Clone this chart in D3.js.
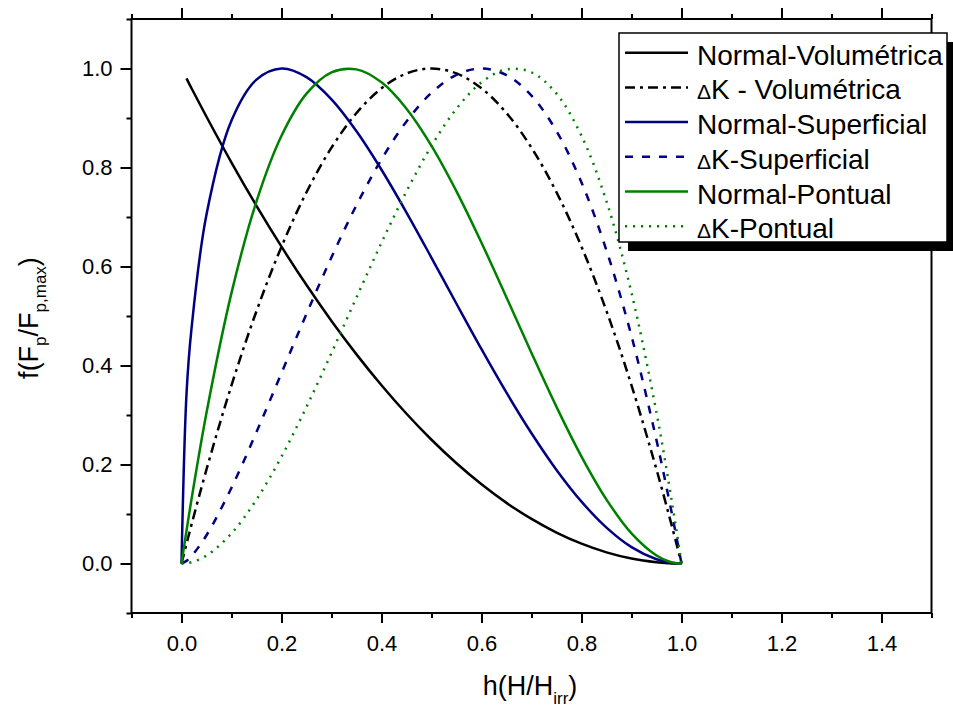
<!DOCTYPE html>
<html lang="pt">
<head>
<meta charset="UTF-8">
<script src="https://cdn.jsdelivr.net/npm/d3@7"></script>
<title>f(Fp/Fp,max)</title>
<style>
  body { margin: 0; background: #fff; }
  text { font-family: Arial, "Liberation Sans", sans-serif; fill: #000; }
</style>
</head>
<body>
<svg width="953" height="707"></svg>
<script>
// campo reduzido h = H/Hirr
const hGrid = [0, 0.01, 0.02, 0.05, 0.1, 0.15, 0.2, 0.25, 0.3, 0.35, 0.4, 0.45, 0.5,
               0.55, 0.6, 0.65, 0.7, 0.75, 0.8, 0.85, 0.9, 0.95, 0.975, 0.99, 1.0];

// valores (f normalizada)
const normalVol = [null, 0.980, 0.960, 0.9025, 0.81, 0.7225, 0.64, 0.5625, 0.49, 0.4225, 0.36, 0.3025, 0.25,
                   0.2025, 0.16, 0.1225, 0.09, 0.0625, 0.04, 0.0225, 0.01, 0.0025, 0.0006, 0.0001, 0];
const deltaKVol = [0, 0.0396, 0.0784, 0.19, 0.36, 0.51, 0.64, 0.75, 0.84, 0.91, 0.96, 0.99, 1.0,
                   0.99, 0.96, 0.91, 0.84, 0.75, 0.64, 0.51, 0.36, 0.19, 0.0975, 0.0396, 0];
const normalSup = [0, 0.3424, 0.4745, 0.7051, 0.8949, 0.9776, 1.0, 0.9826, 0.9377, 0.8733, 0.7955, 0.7090, 0.6176,
                   0.5247, 0.4330, 0.3451, 0.2631, 0.1891, 0.1250, 0.0725, 0.0331, 0.0085, 0.0022, 0.0003, 0];
const deltaKSup = [0, 0.0053, 0.0149, 0.0571, 0.1531, 0.2656, 0.3849, 0.5043, 0.6187, 0.7240, 0.8165, 0.8931, 0.9509,
                   0.9873, 1.0, 0.9866, 0.9451, 0.8735, 0.7698, 0.6323, 0.4593, 0.2490, 0.1295, 0.0530, 0];
const normalPont = [0, 0.0662, 0.1297, 0.3046, 0.5468, 0.7315, 0.8640, 0.9492, 0.9923, 0.9982, 0.9720, 0.9188, 0.8438,
                    0.7518, 0.6480, 0.5375, 0.4253, 0.3164, 0.2160, 0.1291, 0.0608, 0.0160, 0.0041, 0.0007, 0];
const deltaKPont = [0, 0.0007, 0.0026, 0.0160, 0.0608, 0.1291, 0.2160, 0.3164, 0.4253, 0.5375, 0.6480, 0.7518, 0.8438,
                    0.9188, 0.9720, 0.9982, 0.9923, 0.9492, 0.8640, 0.7315, 0.5468, 0.3046, 0.1604, 0.0662, 0];

const seriesNames = ['Normal-Volumétrica', 'K - Volumétrica', 'Normal-Superficial',
                     'K-Superficial', 'Normal-Pontual', 'K-Pontual'];
const xTicks = [0, 0.2, 0.4, 0.6, 0.8, 1.0, 1.2, 1.4];
const yTicks = [0, 0.2, 0.4, 0.6, 0.8, 1.0];

const series = [
  { name: seriesNames[0], delta: false, values: normalVol,  color: '#000000', dash: null },
  { name: seriesNames[1], delta: true,  values: deltaKVol,  color: '#000000', dash: '10,5,3,5' },
  { name: seriesNames[2], delta: false, values: normalSup,  color: '#000080', dash: null },
  { name: seriesNames[3], delta: true,  values: deltaKSup,  color: '#000080', dash: '8,9' },
  { name: seriesNames[4], delta: false, values: normalPont, color: '#008000', dash: null },
  { name: seriesNames[5], delta: true,  values: deltaKPont, color: '#008000', dash: '2,6' }
];

const svg = d3.select('svg');
const plot = { left: 131.5, right: 931.5, top: 19, bottom: 613 };

const x = d3.scaleLinear().domain([-0.1, 1.5]).range([plot.left, plot.right]);
const y = d3.scaleLinear().domain([-0.1, 1.1]).range([plot.bottom, plot.top]);

const minorX = d3.range(-0.1, 1.51, 0.1).map(d => +d.toFixed(2));
const minorY = d3.range(-0.1, 1.11, 0.1).map(d => +d.toFixed(2));

function styleAxis(g, fontSize) {
  g.select('.domain').remove();
  g.selectAll('line').attr('stroke', '#000').attr('stroke-width', 2);
  g.selectAll('text').style('font-size', fontSize + 'px')
    .style('font-family', 'Arial, "Liberation Sans", sans-serif');
}

// eixo inferior
svg.append('g').attr('transform', `translate(0,${plot.bottom})`)
  .call(d3.axisBottom(x).tickValues(minorX).tickSize(5).tickFormat(''))
  .call(g => styleAxis(g, 22));
svg.append('g').attr('transform', `translate(0,${plot.bottom})`)
  .call(d3.axisBottom(x).tickValues(xTicks).tickSize(10).tickPadding(12).tickFormat(d3.format('.1f')))
  .call(g => styleAxis(g, 22));

// eixo superior
svg.append('g').attr('transform', `translate(0,${plot.top})`)
  .call(d3.axisTop(x).tickValues(minorX).tickSize(5).tickFormat(''))
  .call(g => styleAxis(g, 22));
svg.append('g').attr('transform', `translate(0,${plot.top})`)
  .call(d3.axisTop(x).tickValues(xTicks).tickSize(11).tickFormat(''))
  .call(g => styleAxis(g, 22));

// eixo esquerdo
svg.append('g').attr('transform', `translate(${plot.left},0)`)
  .call(d3.axisLeft(y).tickValues(minorY).tickSize(5).tickFormat(''))
  .call(g => styleAxis(g, 22));
svg.append('g').attr('transform', `translate(${plot.left},0)`)
  .call(d3.axisLeft(y).tickValues(yTicks).tickSize(11).tickPadding(8).tickFormat(d3.format('.1f')))
  .call(g => styleAxis(g, 22));

// moldura
svg.append('rect')
  .attr('x', plot.left).attr('y', plot.top)
  .attr('width', plot.right - plot.left).attr('height', plot.bottom - plot.top)
  .attr('fill', 'none').attr('stroke', '#000').attr('stroke-width', 2);

// curvas
const line = d3.line()
  .defined(d => d[1] !== null)
  .x(d => x(d[0]))
  .y(d => y(d[1]))
  .curve(d3.curveCatmullRom.alpha(0.5));

svg.append('g').selectAll('path')
  .data(series)
  .enter()
  .append('path')
  .attr('d', s => line(hGrid.map((h, i) => [h, s.values[i]])))
  .attr('fill', 'none')
  .attr('stroke', s => s.color)
  .attr('stroke-width', 2.5)
  .attr('stroke-dasharray', s => s.dash);

// títulos dos eixos
const xt = svg.append('text').attr('x', 530).attr('y', 695)
  .attr('text-anchor', 'middle').style('font-size', '27px');
xt.append('tspan').text('h(H/H');
xt.append('tspan').attr('dy', 9).style('font-size', '17px').text('irr');
xt.append('tspan').attr('dy', -9).text(')');

const yt = svg.append('text').attr('transform', 'translate(38,318) rotate(-90)')
  .attr('text-anchor', 'middle').style('font-size', '27px');
yt.append('tspan').text('f(F');
yt.append('tspan').attr('dy', 8).style('font-size', '17px').text('p');
yt.append('tspan').attr('dy', -8).text('/F');
yt.append('tspan').attr('dy', 8).style('font-size', '17px').text('p,max');
yt.append('tspan').attr('dy', -8).text(')');

// legenda
const lg = { x: 619, y: 33, w: 328, h: 209, shadow: 9, row: 34.7, first: 52.7 };
svg.append('rect')
  .attr('x', lg.x + lg.shadow).attr('y', lg.y + lg.shadow)
  .attr('width', lg.w).attr('height', lg.h).attr('fill', '#000');
svg.append('rect')
  .attr('x', lg.x).attr('y', lg.y).attr('width', lg.w).attr('height', lg.h)
  .attr('fill', '#fff').attr('stroke', '#000').attr('stroke-width', 1.5);

const items = svg.append('g').selectAll('g')
  .data(series)
  .enter()
  .append('g')
  .attr('transform', (d, i) => `translate(0,${lg.first + i * lg.row})`);

items.append('line')
  .attr('x1', 625).attr('x2', 688).attr('y1', 0).attr('y2', 0)
  .attr('stroke', d => d.color).attr('stroke-width', 2.5)
  .attr('stroke-dasharray', d => d.dash);

const labels = items.append('text')
  .attr('x', 697).attr('y', 12)
  .style('font-size', '28px');
labels.filter(d => d.delta).append('tspan').style('font-size', '21px').text('\u0394');
labels.append('tspan').text(d => d.name);
</script>
</body>
</html>
